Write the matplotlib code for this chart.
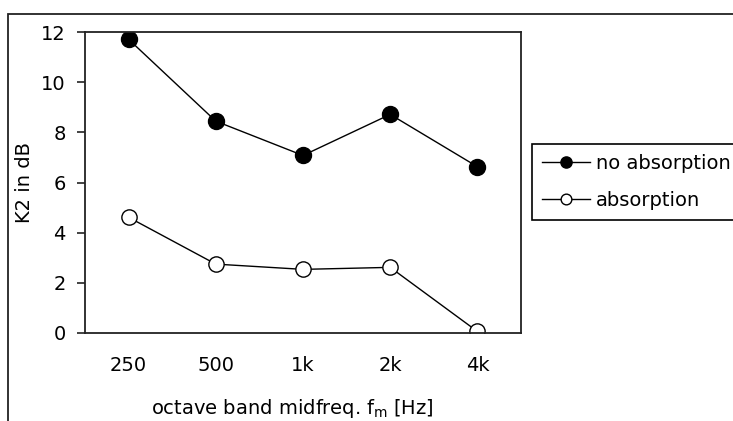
import matplotlib
matplotlib.use("Agg")
import matplotlib.pyplot as plt
from matplotlib.patches import Rectangle

categories = ["250", "500", "1k", "2k", "4k"]
no_absorption = [11.72, 8.45, 7.08, 8.72, 6.63]
absorption = [4.61, 2.74, 2.53, 2.61, 0.05]
yticks = [0, 2, 4, 6, 8, 10, 12]

plt.rcParams['font.family'] = ['DejaVu Sans']
W, H = 733, 421
fig = plt.figure(figsize=(W / 100, H / 100), dpi=100)
FS = 14

# outer frame (extends past right and bottom edges)
fig.patches.append(Rectangle((8 / W, -0.2), 1.2, 1.2 - 13.5 / H,
                             transform=fig.transFigure, fill=False,
                             edgecolor='#222222', linewidth=1.3))

ax = fig.add_axes([85 / W, 1 - 332.7 / H, (521 - 85) / W, (332.7 - 32.3) / H])
x = list(range(len(categories)))
ax.plot(x, no_absorption, color='black', linewidth=1.0, marker='o',
        markersize=11.5, markerfacecolor='black', markeredgecolor='black',
        label='no absorption')
ax.plot(x, absorption, color='black', linewidth=1.0, marker='o',
        markersize=11, markerfacecolor='white', markeredgecolor='black',
        markeredgewidth=1.0, label='absorption')

ax.set_xlim(-0.5, len(categories) - 0.5)
ax.set_ylim(0, 12)
ax.set_yticks(yticks)
ax.set_xticks(x)
ax.set_xticklabels(categories)
for s in ax.spines.values():
    s.set_linewidth(1.3)
    s.set_color('#222222')
ax.tick_params(axis='y', direction='out', length=6, width=1.2, pad=8,
               labelsize=FS, color='#222222')
ax.tick_params(axis='x', length=0, pad=17, labelsize=FS)
ax.set_xlabel(r"octave band midfreq. f$_\mathrm{m}$ [Hz]", fontsize=FS, labelpad=13)
ax.xaxis.set_label_coords((292 - 85) / 436, -0.215)
ax.set_ylabel("K2 in dB", fontsize=FS, labelpad=5)

leg = fig.legend(loc='upper left', bbox_to_anchor=(532 / W, 1 - 144 / H),
                 bbox_transform=fig.transFigure, fancybox=False,
                 edgecolor='black', framealpha=1, fontsize=FS,
                 handlelength=2.5, handletextpad=0.3, borderpad=0.5,
                 labelspacing=0.95, markerscale=0.7, borderaxespad=0)
leg.get_frame().set_linewidth(1.2)

fig.savefig("out.png", dpi=100)
